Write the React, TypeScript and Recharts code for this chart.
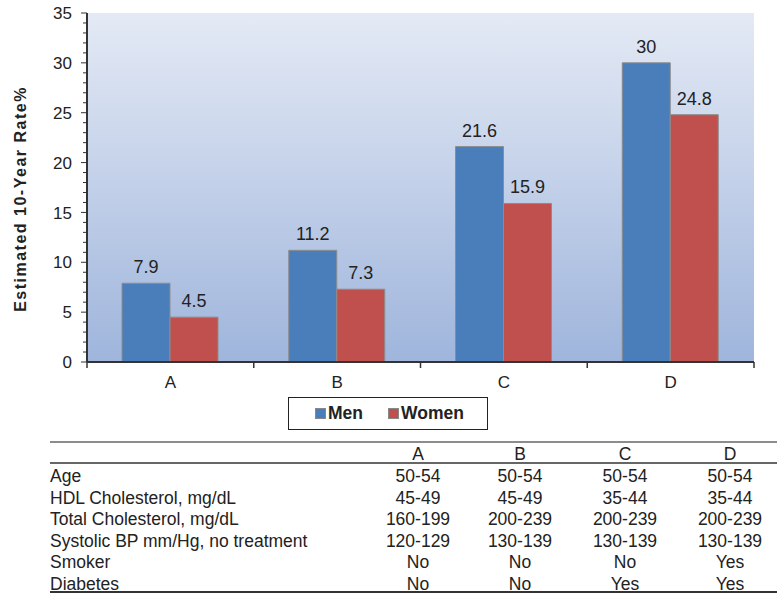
import React from 'react';
import { BarChart, Bar, XAxis, YAxis, CartesianGrid, LabelList, Legend } from 'recharts';

const categories = ['A', 'B', 'C', 'D'];
const menRates = [7.9, 11.2, 21.6, 30];
const womenRates = [4.5, 7.3, 15.9, 24.8];
const yTicks = Array.from({ length: 36 }, (_, i) => i);

const tableColumns = ['A', 'B', 'C', 'D'];
const tableRowLabels = [
  'Age',
  'HDL Cholesterol, mg/dL',
  'Total Cholesterol, mg/dL',
  'Systolic BP mm/Hg, no treatment',
  'Smoker',
  'Diabetes',
];
const ageRow = ['50-54', '50-54', '50-54', '50-54'];
const hdlRow = ['45-49', '45-49', '35-44', '35-44'];
const totalCholRow = ['160-199', '200-239', '200-239', '200-239'];
const systolicRow = ['120-129', '130-139', '130-139', '130-139'];
const smokerRow = ['No', 'No', 'No', 'Yes'];
const diabetesRow = ['No', 'No', 'Yes', 'Yes'];
const tableRows = [ageRow, hdlRow, totalCholRow, systolicRow, smokerRow, diabetesRow];

const data = categories.map((c, i) => ({ cat: c, men: menRates[i], women: womenRates[i] }));

const FONT = '"Liberation Sans", Arial, Helvetica, sans-serif';
const MEN = '#4a7ebb';
const WOMEN = '#c0504d';

const CHART_W = 777;
const CHART_H = 440;
const MARGIN = { top: 13, right: 23, left: 27, bottom: 48 };
const YAXIS_W = 60;
const HALF_BAND = (CHART_W - MARGIN.left - YAXIS_W - MARGIN.right) / categories.length / 2;

const YTick = (props: any) => {
  const { x, y, payload } = props;
  const v = payload.value;
  const major = v % 5 === 0;
  return (
    <g>
      <line x1={x} x2={x - (major ? 6 : 4)} y1={y} y2={y} stroke="#333" strokeWidth={1} />
      {major && (
        <text x={x - 15} y={y} dy="0.36em" textAnchor="end" fontSize={17} fill="#222" fontFamily={FONT}>
          {v}
        </text>
      )}
    </g>
  );
};

const XTick = (props: any) => {
  const { x, y, payload, index } = props;
  return (
    <g>
      <line x1={x - HALF_BAND} x2={x - HALF_BAND} y1={y} y2={y + 6} stroke="#333" strokeWidth={1.5} />
      {index === categories.length - 1 && (
        <line x1={x + HALF_BAND} x2={x + HALF_BAND} y1={y} y2={y + 6} stroke="#333" strokeWidth={1.5} />
      )}
      <text x={x} y={y + 26} textAnchor="middle" fontSize={17} fill="#222" fontFamily={FONT}>
        {payload.value}
      </text>
    </g>
  );
};

const LegendBox = () => (
  <div
    style={{
      width: 200,
      height: 33,
      boxSizing: 'border-box',
      border: '1.5px solid #222',
      display: 'flex',
      alignItems: 'center',
      fontFamily: FONT,
      fontWeight: 'bold',
      fontSize: 17.5,
      color: '#222',
      background: '#fff',
    }}
  >
    <span style={{ width: 11, height: 11, background: MEN, border: '1px solid #888', boxSizing: 'border-box', marginLeft: 26, marginRight: 2 }} />
    <span>Men</span>
    <span style={{ width: 11, height: 11, background: WOMEN, border: '1px solid #888', boxSizing: 'border-box', marginLeft: 25, marginRight: 2 }} />
    <span>Women</span>
  </div>
);

const colX = [418, 520, 625, 730];
const rowBaselines = [482, 503.5, 525, 546.5, 568, 589.5];

const Table = () => (
  <svg width={777} height={595} style={{ position: 'absolute', left: 0, top: 0, pointerEvents: 'none' }}>
    <line x1={50} x2={777} y1={442} y2={442} stroke="#666" strokeWidth={1.5} />
    <line x1={50} x2={777} y1={463} y2={463} stroke="#333" strokeWidth={1.5} />
    <line x1={50} x2={777} y1={592} y2={592} stroke="#333" strokeWidth={2} />
    {tableColumns.map((c, i) => (
      <text key={c} x={colX[i]} y={460} textAnchor="middle" fontSize={17.5} fill="#222" fontFamily={FONT}>
        {c}
      </text>
    ))}
    {tableRowLabels.map((label, r) => (
      <g key={label}>
        <text x={50} y={rowBaselines[r]} fontSize={17.5} fill="#222" fontFamily={FONT}>
          {label}
        </text>
        {tableRows[r].map((v, i) => (
          <text key={i} x={colX[i]} y={rowBaselines[r]} textAnchor="middle" fontSize={17.5} fill="#222" fontFamily={FONT}>
            {v}
          </text>
        ))}
      </g>
    ))}
  </svg>
);

export default function App() {
  return (
    <div style={{ position: 'absolute', left: 0, top: 0, width: 777, height: 595, background: '#fff', fontFamily: FONT }}>
      <BarChart width={CHART_W} height={CHART_H} data={data} margin={MARGIN} barSize={48} barGap={0}>
        <defs>
          <linearGradient id="bgGrad" x1="0" y1="0" x2="0" y2="1">
            <stop offset="0%" stopColor="#e4eaf5" />
            <stop offset="100%" stopColor="#9fb5dc" />
          </linearGradient>
        </defs>
        <CartesianGrid horizontal={false} vertical={false} fill="url(#bgGrad)" />
        <XAxis
          dataKey="cat"
          height={30}
          tickSize={0}
          tickMargin={0}
          tickLine={false}
          axisLine={{ stroke: '#333', strokeWidth: 2 }}
          tick={<XTick />}
          interval={0}
        />
        <XAxis
          xAxisId="top"
          dataKey="cat"
          orientation="top"
          height={0}
          tick={false}
          tickLine={false}
          axisLine={{ stroke: '#8a8a8a', strokeWidth: 1 }}
        />
        <YAxis
          width={YAXIS_W}
          domain={[0, 35]}
          ticks={yTicks}
          interval={0}
          tickSize={0}
          tickMargin={0}
          tickLine={false}
          axisLine={{ stroke: '#333', strokeWidth: 2 }}
          tick={<YTick />}
          label={{
            content: () => (
              <text
                x={20}
                y={199}
                transform="rotate(-90 20 199)"
                textAnchor="middle"
                dominantBaseline="central"
                fontSize={16}
                fontWeight="bold"
                letterSpacing={1.5}
                fill="#222"
                fontFamily={FONT}
              >
                Estimated 10-Year Rate%
              </text>
            ),
          }}
        />
        <YAxis
          yAxisId="right"
          orientation="right"
          width={0}
          domain={[0, 35]}
          tick={false}
          tickLine={false}
          axisLine={{ stroke: '#8a8a8a', strokeWidth: 1 }}
        />
        <Legend
          layout="vertical"
          align="center"
          verticalAlign="middle"
          wrapperStyle={{ left: 288, top: 397, width: 200, height: 33 }}
          content={() => <LegendBox />}
        />
        <Bar dataKey="men" name="Men" fill={MEN} stroke="#8c8c8c" strokeWidth={1} isAnimationActive={false}>
          <LabelList dataKey="men" position="top" offset={10} fontSize={18} fill="#222" fontFamily={FONT} />
        </Bar>
        <Bar dataKey="women" name="Women" fill={WOMEN} stroke="#8c8c8c" strokeWidth={1} isAnimationActive={false}>
          <LabelList dataKey="women" position="top" offset={10} fontSize={18} fill="#222" fontFamily={FONT} />
        </Bar>
      </BarChart>
      <Table />
    </div>
  );
}
